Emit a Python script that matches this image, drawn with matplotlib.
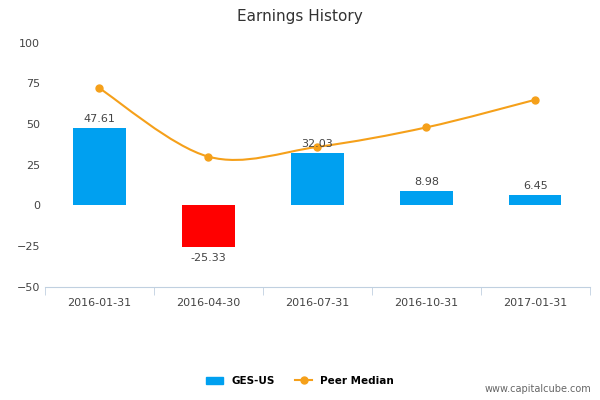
import matplotlib
matplotlib.use("Agg")
import matplotlib.pyplot as plt
from matplotlib.path import Path
from matplotlib.patches import PathPatch
import numpy as np

dates = ["2016-01-31", "2016-04-30", "2016-07-31", "2016-10-31", "2017-01-31"]
ges_values = [47.61, -25.33, 32.03, 8.98, 6.45]
peer_median = [72, 30, 36, 48, 65]
y_ticks = [-50, -25, 0, 25, 50, 75, 100]

fig = plt.figure(figsize=(6, 4), dpi=100)
ax = fig.add_axes([0.075, 0.283, 0.908, 0.61])

x = np.arange(len(dates))
colors = ["#00a0f0" if v >= 0 else "#ff0000" for v in ges_values]
ax.bar(x, ges_values, width=0.48, color=colors, zorder=2)
for xi, v in zip(x, ges_values):
    off = 2.5 if v >= 0 else -4
    ax.text(xi, v + off, f"{v:.2f}", ha="center", va="bottom" if v >= 0 else "top",
            fontsize=8, color="#444444", zorder=4)

# smooth curve through peer median points (cardinal spline as bezier segments)
pts = np.column_stack([x, peer_median]).astype(float)
verts = [tuple(pts[0])]
codes = [Path.MOVETO]
for i in range(len(pts) - 1):
    p0 = pts[i - 1] if i > 0 else pts[i]
    p3 = pts[i + 2] if i + 2 < len(pts) else pts[i + 1]
    c1 = pts[i] + (pts[i + 1] - p0) / 6
    c2 = pts[i + 1] - (p3 - pts[i]) / 6
    verts += [tuple(c1), tuple(c2), tuple(pts[i + 1])]
    codes += [Path.CURVE4] * 3
ax.add_patch(PathPatch(Path(verts, codes), fill=False, edgecolor="#f5a01a",
                       lw=1.5, zorder=3))
ax.plot(x, peer_median, "o", color="#f5a01a", ms=5, zorder=3)

ax.set_xlim(-0.5, len(dates) - 0.5)
ax.set_ylim(-50, 100)
ax.set_yticks(y_ticks)
ax.set_xticks(x)
ax.set_xticklabels(dates, rotation=45, ha="right", rotation_mode="anchor")
ax.set_xticks(np.arange(-0.5, len(dates)), minor=True)
ax.tick_params(axis="x", which="major", length=0, labelsize=8, colors="#444444", pad=8)
ax.tick_params(axis="x", which="minor", length=6, color="#c0d0e0")
ax.tick_params(axis="y", length=0, labelsize=8, colors="#444444")
for s in ["top", "right", "left"]:
    ax.spines[s].set_visible(False)
ax.spines["bottom"].set_color("#c0d0e0")
ax.spines["bottom"].set_position(("data", -50))

fig.text(0.5, 0.96, "Earnings History", ha="center", va="center", fontsize=11,
         color="#333333")

h1 = plt.Rectangle((0, 0), 1, 1, color="#00a0f0")
h2, = plt.plot([], [], "-o", color="#f5a01a", ms=5)
fig.legend([h1, h2], ["GES-US", "Peer Median"], loc="center", bbox_to_anchor=(0.5, 0.048),
           ncol=2, frameon=False, prop={"size": 7.5, "weight": "bold"}, handlelength=1.6)
fig.text(0.985, 0.02, "www.capitalcube.com", ha="right", fontsize=7, color="#666666")

fig.savefig("out.png", dpi=100)
